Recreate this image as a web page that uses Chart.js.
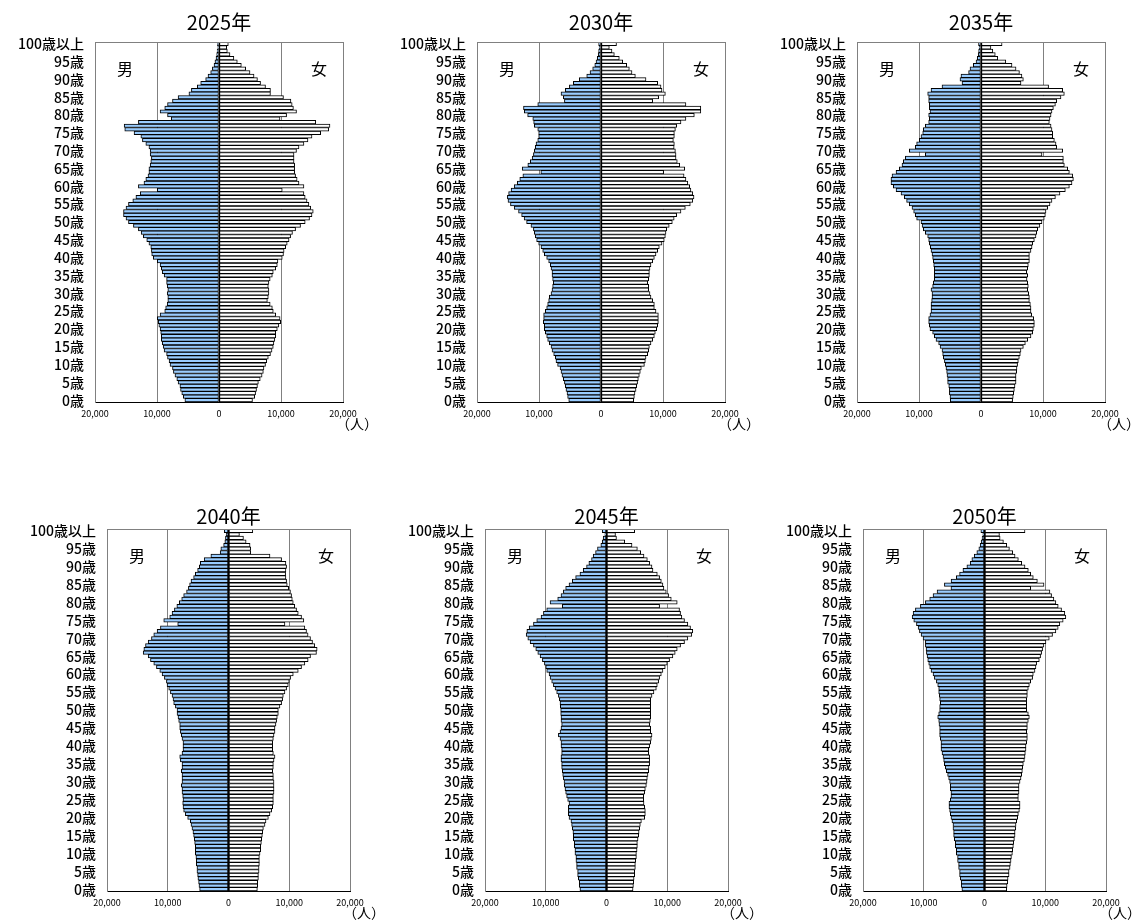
<!DOCTYPE html>
<html lang="ja">
<head>
<meta charset="utf-8">
<title>人口ピラミッド 2025年〜2050年</title>
<script src="https://cdn.jsdelivr.net/npm/chart.js@4/dist/chart.umd.min.js"></script>
<style>
  html, body { margin: 0; padding: 0; background: #fff; }
  #wrap { position: relative; width: 1136px; height: 922px; overflow: hidden; }
  #wrap canvas { position: absolute; left: 0; top: 0; }
</style>
</head>
<body>
<div id="wrap"></div>
<script>
// Age categories: 0歳 … 99歳, 100歳以上
const ages = Array.from({ length: 101 }, (_, i) => (i === 100 ? '100歳以上' : i + '歳'));
const years = ['2025年', '2030年', '2035年', '2040年', '2045年', '2050年'];
const xTicks = [-20000, -10000, 0, 10000, 20000];

// Population by single year of age (index 0 = 0歳, index 100 = 100歳以上)
const male2025 = [
  5500, 5750, 6000, 6200, 6300, 6600, 6800, 7100, 7350, 7500,
  7900, 8050, 8300, 8450, 8850, 9000, 9150, 9300, 9300, 9400,
  9500, 9700, 9800, 9950, 9500, 8750, 8600, 8350, 8250, 8250,
  8350, 8250, 8350, 8450, 8450, 8850, 9150, 9300, 9500, 9950,
  10600, 10850, 10900, 11000, 11300, 11650, 12200, 12550, 13000, 13800,
  14600, 15000, 15400, 15400, 15000, 14600, 13900, 13400, 12700, 9950,
  13000, 12100, 11800, 11450, 11300, 11300, 11100, 11000, 10900, 11100,
  11100, 11300, 11800, 12350, 12600, 13700, 15200, 15300, 13000, 7700,
  8300, 9500, 8750, 8300, 7500, 6600, 4850, 4450, 3500, 2950,
  2150, 1770, 1340, 1070, 800, 650, 480, 370, 300, 200, 250
];
const female2025 = [
  5400, 5750, 5900, 6050, 6200, 6350, 6650, 6950, 7150, 7250,
  7500, 7700, 7950, 8300, 8550, 8750, 8850, 9000, 9150, 9150,
  9400, 9650, 9950, 9850, 9150, 8750, 8600, 8250, 7800, 7950,
  8050, 8050, 7950, 8050, 8250, 8600, 8750, 9150, 9400, 9500,
  10200, 10400, 10500, 10750, 11000, 11300, 11550, 11850, 12350, 13150,
  13900, 14600, 15000, 15200, 14800, 14500, 14200, 13900, 13700, 10200,
  13700, 12900, 12600, 12350, 12200, 12200, 12200, 12100, 12100, 12100,
  12500, 12900, 13700, 14350, 15000, 16400, 17700, 17900, 15600, 9840,
  10900, 12500, 12000, 11800, 11600, 10400, 8300, 8300, 7500, 6700,
  6200, 5650, 5000, 4300, 3600, 2950, 2400, 1770, 1340, 1240, 1500
];

const male2030 = [
  5200, 5380, 5480, 5650, 5750, 5900, 6080, 6290, 6450, 6600,
  7000, 7260, 7370, 7630, 7900, 8060, 8330, 8600, 8760, 8980,
  9140, 9140, 9300, 9250, 9250, 8980, 8760, 8600, 8440, 8330,
  8060, 7900, 7800, 7690, 7800, 7900, 7900, 8060, 8170, 8440,
  8760, 9140, 9400, 9680, 10050, 10380, 10600, 10750, 10900, 11300,
  12000, 12400, 12800, 13300, 14000, 14600, 15000, 15100, 14900, 14500,
  14000, 13500, 13100, 12600, 9700, 12700, 11800, 11400, 11100, 10900,
  10750, 10600, 10480, 10200, 10050, 10050, 10200, 10750, 10860, 11000,
  11830, 12370, 12500, 10200, 5900, 6080, 6450, 5750, 5100, 4460,
  3500, 2300, 1770, 1340, 1000, 800, 600, 450, 380, 300, 380
];
const female2030 = [
  5270, 5380, 5480, 5650, 5750, 5900, 6020, 6180, 6340, 6500,
  7000, 7150, 7260, 7530, 7690, 7800, 8060, 8330, 8600, 8760,
  8980, 9140, 9250, 9250, 9250, 8870, 8600, 8600, 8330, 8060,
  7900, 7690, 7690, 7530, 7690, 7800, 7800, 7900, 8060, 8330,
  8600, 8870, 9140, 9400, 9840, 10200, 10380, 10480, 10600, 11000,
  11500, 11800, 12200, 12900, 13600, 14400, 14800, 15000, 14800, 14500,
  14300, 14000, 13700, 13400, 10100, 13500, 12700, 12300, 12100, 12100,
  12000, 11800, 11830, 11670, 11830, 11830, 12000, 12200, 12900, 13700,
  15050, 16100, 16100, 13700, 8330, 9300, 10380, 9840, 9680, 9140,
  7260, 5540, 5000, 4570, 4140, 3500, 2950, 2150, 1770, 1340, 2500
];

const male2035 = [
  4950, 5000, 5100, 5100, 5200, 5380, 5380, 5480, 5540, 5650,
  5750, 5900, 6080, 6180, 6290, 6600, 6830, 7260, 7530, 7800,
  8230, 8330, 8440, 8440, 8230, 8060, 8060, 8060, 7960, 7900,
  7900, 8060, 7800, 7690, 7530, 7530, 7530, 7530, 7630, 7690,
  7800, 7900, 8060, 8170, 8330, 8440, 8600, 8980, 9300, 9500,
  9680, 10380, 10600, 10860, 11130, 11560, 12000, 12370, 12900, 13700,
  14140, 14520, 14520, 14350, 13700, 13170, 12740, 12530, 12200, 8980,
  11560, 10600, 10380, 9950, 9680, 9400, 9300, 8980, 8440, 8330,
  8440, 8230, 8330, 8330, 8440, 8440, 8600, 8060, 6290, 3060,
  3390, 3230, 2000, 1770, 1240, 800, 600, 450, 380, 300, 400
];
const female2035 = [
  5100, 5200, 5270, 5380, 5480, 5650, 5650, 5650, 5750, 5800,
  5900, 6020, 6180, 6340, 6450, 6830, 7150, 7530, 8060, 8330,
  8440, 8600, 8600, 8500, 8170, 8060, 8060, 7960, 7800, 7800,
  7690, 7530, 7630, 7530, 7420, 7530, 7370, 7530, 7630, 7800,
  7800, 7800, 8060, 8230, 8330, 8600, 8870, 8980, 9140, 9500,
  9840, 10200, 10380, 10480, 10750, 11130, 11450, 12000, 12740, 13600,
  14250, 14680, 14900, 14780, 14250, 13980, 13440, 13280, 13280, 9840,
  13170, 12200, 12100, 11830, 11560, 11560, 11450, 11300, 11020, 11130,
  11300, 11450, 11670, 12000, 12200, 12900, 13440, 13170, 10900, 6450,
  6830, 6600, 6200, 5650, 5000, 4000, 2700, 2300, 1900, 1600, 3400
];

const male2040 = [
  4750, 4860, 4920, 5030, 5080, 5190, 5190, 5300, 5300, 5360,
  5460, 5460, 5460, 5570, 5630, 5740, 5850, 6010, 6170, 6280,
  6720, 7100, 7380, 7490, 7540, 7490, 7540, 7650, 7650, 7760,
  7650, 7650, 7650, 7760, 7650, 7650, 7920, 8030, 7650, 7490,
  7490, 7490, 7650, 7760, 7920, 8030, 8030, 8200, 8310, 8470,
  8470, 8740, 9020, 9130, 9290, 9560, 9840, 10110, 10220, 10550,
  10930, 11310, 11860, 12300, 12840, 13220, 14040, 13930, 13660, 13220,
  12680, 12300, 11750, 11200, 8360, 10660, 9670, 9290, 8900, 8500,
  8100, 7700, 7380, 6900, 6600, 6400, 6170, 5740, 5460, 5080,
  4800, 4640, 4000, 2900, 1370, 1260, 800, 600, 500, 380, 700
];
const female2040 = [
  4750, 4800, 4800, 4920, 4920, 5030, 5030, 5080, 5080, 5080,
  5190, 5300, 5300, 5410, 5460, 5570, 5630, 5740, 6010, 6170,
  6560, 6830, 7100, 7270, 7380, 7380, 7380, 7490, 7490, 7490,
  7490, 7380, 7380, 7270, 7380, 7380, 7490, 7650, 7380, 7270,
  7270, 7270, 7380, 7490, 7650, 7650, 7810, 7920, 8030, 8200,
  8200, 8470, 8740, 8910, 9020, 9290, 9560, 9840, 10000, 10220,
  10660, 11480, 12020, 12570, 13110, 13500, 14480, 14590, 14200, 13830,
  13500, 13100, 12840, 12570, 9290, 12400, 12020, 11480, 11200, 10900,
  10660, 10500, 10380, 10200, 9900, 9670, 9560, 9450, 9400, 9450,
  9560, 9450, 8740, 6830, 3660, 3660, 3550, 2900, 2460, 1800, 4000
];

const male2045 = [
  4370, 4480, 4480, 4640, 4750, 4750, 4920, 4920, 5030, 5030,
  5190, 5190, 5300, 5300, 5460, 5460, 5520, 5630, 5740, 5850,
  6170, 6280, 6280, 6280, 6170, 6390, 6560, 6720, 6830, 6940,
  6990, 7100, 7210, 7270, 7380, 7380, 7490, 7490, 7380, 7380,
  7490, 7490, 7650, 7920, 7650, 7490, 7380, 7490, 7490, 7540,
  7540, 7600, 7650, 7760, 7920, 8200, 8470, 8740, 9020, 9290,
  9450, 9840, 10000, 10220, 10550, 10930, 11310, 11640, 12020, 12570,
  12950, 13220, 13110, 12730, 12020, 11480, 10770, 10380, 9840, 7270,
  9290, 8030, 7490, 7100, 6720, 6170, 5630, 5080, 4370, 3830,
  3280, 2900, 2460, 2190, 1800, 1480, 930, 700, 550, 270, 700
];
const female2045 = [
  4370, 4430, 4480, 4540, 4640, 4640, 4750, 4750, 4810, 4920,
  4920, 5030, 5080, 5080, 5190, 5300, 5360, 5460, 5570, 5740,
  6280, 6390, 6390, 6280, 6170, 6120, 6120, 6280, 6390, 6560,
  6670, 6720, 6830, 6940, 6990, 7100, 7100, 7100, 6940, 6940,
  7100, 7270, 7380, 7490, 7270, 7270, 7100, 7210, 7270, 7270,
  7270, 7270, 7270, 7270, 7490, 7810, 8200, 8360, 8580, 8740,
  9020, 9290, 9670, 10000, 10380, 10930, 11310, 11640, 12190, 12840,
  13390, 14040, 14200, 13830, 13390, 12840, 12400, 12190, 12020, 8740,
  11640, 10660, 10220, 9840, 9450, 9290, 9020, 8740, 8360, 7650,
  7490, 7100, 6720, 6170, 5630, 5080, 4200, 3000, 1640, 1480, 4640
];

const male2050 = [
  3720, 3830, 3830, 3990, 4100, 4100, 4260, 4260, 4430, 4430,
  4640, 4640, 4810, 4810, 4970, 5080, 5080, 5190, 5190, 5360,
  5520, 5630, 5740, 5850, 5850, 5630, 5520, 5520, 5630, 5630,
  5740, 5900, 6070, 6280, 6450, 6610, 6720, 6830, 6990, 7160,
  7160, 7160, 7270, 7380, 7380, 7380, 7490, 7540, 7700, 7540,
  7380, 7380, 7270, 7380, 7430, 7540, 7540, 7700, 7920, 8250,
  8470, 8800, 9020, 9180, 9340, 9450, 9560, 9620, 9730, 9730,
  10110, 10440, 10710, 10930, 11200, 11640, 11910, 11750, 11370, 10550,
  9730, 9020, 8470, 7810, 5520, 6600, 5500, 4640, 4100, 3550,
  2900, 2350, 2080, 1690, 1260, 930, 710, 550, 400, 270, 600
];
const female2050 = [
  3660, 3720, 3830, 3880, 4040, 4040, 4210, 4260, 4370, 4430,
  4590, 4640, 4750, 4810, 4920, 5030, 5030, 5140, 5190, 5300,
  5460, 5570, 5740, 5850, 5850, 5570, 5570, 5680, 5680, 5680,
  5850, 6010, 6120, 6230, 6280, 6390, 6560, 6670, 6720, 6830,
  6830, 6940, 7050, 7050, 6940, 7050, 7050, 7210, 7380, 7210,
  6940, 6940, 6940, 6940, 7050, 7050, 7210, 7380, 7600, 7920,
  8030, 8310, 8470, 8580, 9020, 9230, 9400, 9560, 9780, 10110,
  10660, 11200, 11750, 12130, 12400, 12950, 13390, 13220, 12680, 12130,
  11750, 11420, 11040, 10770, 7600, 9800, 8700, 8030, 7600, 7210,
  6670, 6120, 5570, 5030, 4640, 4100, 3660, 3110, 2570, 2460, 6670
];

const maleSeries = [male2025, male2030, male2035, male2040, male2045, male2050];
const femaleSeries = [female2025, female2030, female2035, female2040, female2045, female2050];

// Page layout: plot rectangle of each pyramid in page pixels
const frames = [
  { l: 95,  r: 343,  t: 42,  b: 402, titleY: 22 },
  { l: 477, r: 725,  t: 42,  b: 402, titleY: 22 },
  { l: 857, r: 1105, t: 42,  b: 402, titleY: 22 },
  { l: 107, r: 350,  t: 529, b: 891, titleY: 516 },
  { l: 485, r: 728,  t: 529, b: 891, titleY: 516 },
  { l: 863, r: 1106, t: 529, b: 891, titleY: 516 }
];

const PAGE_W = 1136, PAGE_H = 922;
const Y_AXIS_W = 80, X_AXIS_H = 24;
const FONT = '"Noto Sans CJK JP", "Noto Sans", sans-serif';
const MALE_FILL = '#99ccff';
const GRID_GREY = '#808080';

// Title, 男 / 女 markers, unit label and the top frame line
const pyramidDecor = {
  id: 'pyramidDecor',
  afterDraw(chart, args, opts) {
    const { ctx, chartArea: a } = chart;
    ctx.save();
    ctx.strokeStyle = GRID_GREY;
    ctx.lineWidth = 1;
    ctx.beginPath();
    ctx.moveTo(a.left, Math.round(a.top) + 0.5);
    ctx.lineTo(a.right, Math.round(a.top) + 0.5);
    ctx.stroke();

    ctx.fillStyle = '#000';
    ctx.textAlign = 'center';
    ctx.textBaseline = 'middle';
    ctx.font = '20px ' + FONT;
    ctx.fillText(opts.title, (a.left + a.right) / 2, opts.titleY);

    ctx.font = '16px ' + FONT;
    ctx.fillText('男', a.left + 30, a.top + 27);
    ctx.fillText('女', a.right - 24, a.top + 27);

    ctx.font = '14px ' + FONT;
    ctx.fillText('（人）', a.right + 14, a.bottom + 22);
    ctx.restore();
  }
};

const wrap = document.getElementById('wrap');

years.forEach((year, k) => {
  const f = frames[k];
  const canvas = document.createElement('canvas');
  canvas.width = PAGE_W;
  canvas.height = PAGE_H;
  wrap.appendChild(canvas);

  new Chart(canvas, {
    type: 'bar',
    data: {
      labels: ages,
      datasets: [
        {
          label: '男',
          data: maleSeries[k].map(v => -v),
          backgroundColor: MALE_FILL,
          borderColor: '#000',
          borderWidth: 1,
          borderSkipped: false
        },
        {
          label: '女',
          data: femaleSeries[k],
          backgroundColor: '#ffffff',
          borderColor: '#000',
          borderWidth: 1,
          borderSkipped: false
        }
      ]
    },
    options: {
      indexAxis: 'y',
      responsive: false,
      animation: false,
      devicePixelRatio: 1,
      layout: {
        padding: {
          left: f.l - Y_AXIS_W,
          right: PAGE_W - f.r,
          top: f.t,
          bottom: PAGE_H - f.b - X_AXIS_H
        }
      },
      datasets: { bar: { barPercentage: 1, categoryPercentage: 1 } },
      plugins: {
        legend: { display: false },
        tooltip: { enabled: false },
        title: { display: false },
        pyramidDecor: { title: year, titleY: f.titleY }
      },
      scales: {
        x: {
          type: 'linear',
          min: xTicks[0],
          max: xTicks[xTicks.length - 1],
          stacked: true,
          afterFit(scale) { scale.height = X_AXIS_H; },
          afterBuildTicks(scale) { scale.ticks = xTicks.map(v => ({ value: v })); },
          ticks: {
            autoSkip: false,
            maxRotation: 0,
            padding: 6,
            color: '#000',
            font: { size: 9, family: FONT },
            callback: v => Math.abs(v).toLocaleString('en-US')
          },
          grid: {
            drawTicks: false,
            lineWidth: 1,
            color: c => (c.tick && c.tick.value === 0 ? '#000' : GRID_GREY)
          },
          border: { color: '#000', width: 1 }
        },
        y: {
          type: 'category',
          reverse: true,
          stacked: true,
          afterFit(scale) { scale.width = Y_AXIS_W; },
          ticks: {
            autoSkip: false,
            padding: 11,
            color: '#000',
            font: { size: 14, weight: '500', family: FONT },
            callback(value, index) {
              return (index % 5 === 0 || index === 100) ? ages[index] : null;
            }
          },
          grid: { display: false, drawTicks: false },
          border: { display: true, color: GRID_GREY, width: 1 }
        }
      }
    },
    plugins: [pyramidDecor]
  });
});
</script>
</body>
</html>
